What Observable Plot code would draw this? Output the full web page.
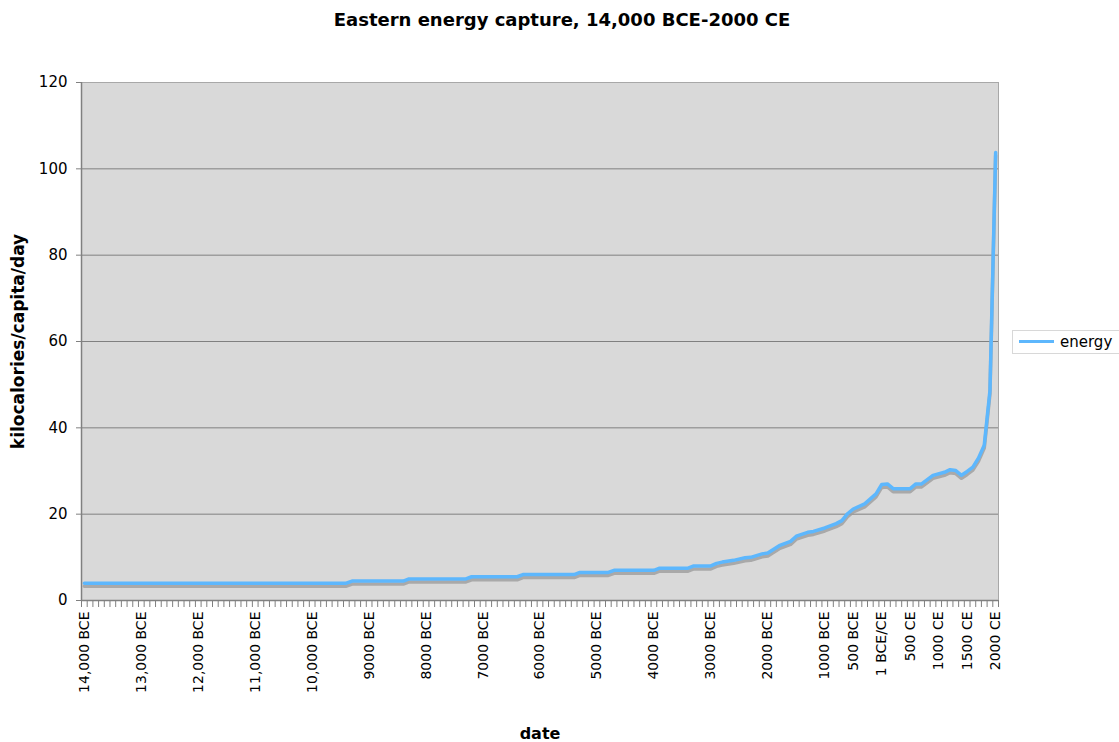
<!DOCTYPE html>
<html><head><meta charset="utf-8">
<script src="https://cdn.jsdelivr.net/npm/d3@7"></script>
<script src="https://cdn.jsdelivr.net/npm/@observablehq/plot@0.6"></script>
<style>
body{margin:0;background:#fff;font-family:"DejaVu Sans",Verdana,sans-serif;}
#wrap{position:relative;width:1119px;height:742px;overflow:hidden;}
#title{height:40px;line-height:40px;text-align:center;font-weight:bold;font-size:18px;color:#000;padding-left:5px;}
#legend{position:absolute;left:1012px;top:330px;width:140px;height:22px;border:1px solid #d8d8d8;background:#fff;}
#legend .sw{position:absolute;left:6px;top:9px;width:35px;height:3px;background:#5db7fd;}
#legend .lb{position:absolute;left:47px;top:2px;font-size:15px;color:#000;}
</style></head>
<body>
<div id="wrap">
<div id="title">Eastern energy capture, 14,000 BCE-2000 CE</div>
<div id="chart"></div>
<div id="legend"><div class="sw"></div><div class="lb">energy</div></div>
</div>
<script>
// Data (year; negative = BCE), energy in kilocalories/capita/day (thousands)
const years = [-14000,-9400,-9300,-8400,-8300,-7300,-7200,-6400,-6300,-5400,-5300,-4800,-4700,-4000,-3900,-3400,-3300,-3000,-2900,-2800,-2600,-2400,-2300,-2100,-2000,-1800,-1600,-1500,-1300,-1200,-1000,-800,-700,-600,-500,-300,-100,0,100,200,500,600,700,900,1100,1200,1300,1400,1500,1600,1700,1800,1900,2000];
const energy = [4.0,4.0,4.5,4.5,5.0,5.0,5.5,5.5,6.0,6.0,6.5,6.5,7.0,7.0,7.5,7.5,8.0,8.0,8.6,8.9,9.3,9.9,10.0,10.8,11.0,12.7,13.7,14.9,15.8,16.0,16.8,17.8,18.5,20.1,21.2,22.4,24.7,26.9,27.0,25.9,25.9,27.0,27.0,29.0,29.7,30.3,30.1,29.0,29.9,30.9,33.0,36.0,48.6,103.8];
const tickYears = [-14000,-13000,-12000,-11000,-10000,-9000,-8000,-7000,-6000,-5000,-4000,-3000,-2000,-1000,-500,0,500,1000,1500,2000];
const tickLabels = ["14,000 BCE","13,000 BCE","12,000 BCE","11,000 BCE","10,000 BCE","9000 BCE","8000 BCE","7000 BCE","6000 BCE","5000 BCE","4000 BCE","3000 BCE","2000 BCE","1000 BCE","500 BCE","1 BCE/CE","500 CE","1000 CE","1500 CE","2000 CE"];
const yTicks = [0,20,40,60,80,100,120];

const data = years.map((y,i)=>({year:y, energy:energy[i]}));
const labelOf = new Map(tickYears.map((y,i)=>[y,tickLabels[i]]));
const minorTicks = d3.range(-14050, 2051, 100);

const chart = Plot.plot({
  width:1119, height:702,
  marginTop:42, marginBottom:142, marginLeft:81, marginRight:121,
  style:{fontFamily:'"DejaVu Sans", Verdana, sans-serif', fontSize:"14px", color:"#000", background:"#fff"},
  x:{type:"linear", domain:[-14050,2050]},
  y:{domain:[0,120]},
  marks:[
    Plot.frame({fill:"#d9d9d9", stroke:"#a8a8a8"}),
    Plot.gridY(yTicks.filter(d=>d>0&&d<120), {stroke:"#808080", strokeOpacity:1, strokeWidth:1}),
    Plot.line(data, {x:"year", y:"energy", stroke:"#9c9c9c", strokeWidth:3.5, strokeOpacity:0.8, dy:3}),
    Plot.line(data, {x:"year", y:"energy", stroke:"#5db7fd", strokeWidth:3.5}),
    Plot.ruleX([-14050], {stroke:"#808080", strokeWidth:1.5}),
    Plot.ruleY([0], {stroke:"#808080", strokeWidth:1.5}),
    Plot.axisY({ticks:yTicks, tickSize:5, tickPadding:9, stroke:"#808080", label:null, fontSize:15}),
    Plot.axisX({ticks:minorTicks, tickSize:7, tickFormat:()=>"", stroke:"#808080", label:null}),
    Plot.axisX({ticks:tickYears, tickSize:0, tickPadding:11, tickRotate:-90, tickFormat:d=>labelOf.get(d), label:null, fontSize:14}),
    Plot.text(["kilocalories/capita/day"], {frameAnchor:"left", textAnchor:"middle", lineAnchor:"middle", dx:-63, rotate:-90, fontWeight:"bold", fontSize:17}),
    Plot.text(["date"], {frameAnchor:"bottom", textAnchor:"middle", lineAnchor:"middle", dy:133, fontWeight:"bold", fontSize:16})
  ]
});
document.getElementById("chart").appendChild(chart);
</script>
</body></html>
